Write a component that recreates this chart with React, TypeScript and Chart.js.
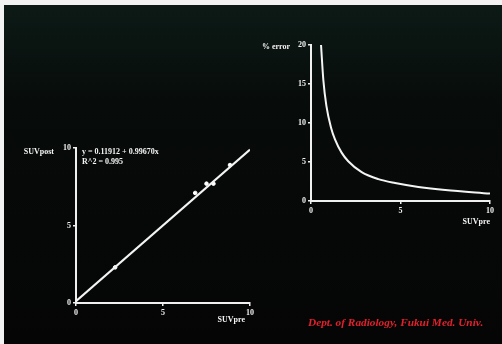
import React, { useEffect, useRef } from "react";
import { Chart, registerables } from "chart.js";

Chart.register(...registerables);

// Left chart: SUVpre vs SUVpost scatter with regression line
const scatterX = [2.25, 6.85, 7.5, 7.9, 8.85];
const scatterY = [2.3, 7.1, 7.7, 7.7, 8.9];
const fitX = [0, 10];
const fitY = [0.12, 9.9];
const equationLines = ["y = 0.11912 + 0.99670x", "R^2 = 0.995"];

// Right chart: % error vs SUVpre
const errX = [0.56, 0.69, 0.86, 1.12, 1.34, 1.71, 2.08, 2.83, 3.76, 4.7, 6, 7.5, 10];
const errY = [20, 15.5, 12.2, 9.4, 7.9, 6.2, 5.1, 3.7, 2.8, 2.3, 1.8, 1.4, 0.95];

const leftTicks = [0, 5, 10];
const rightYTicks = [0, 5, 10, 15, 20];
const footer = "Dept. of Radiology, Fukui Med. Univ.";

const FONT = '"Liberation Serif", "DejaVu Serif", serif';

const textPlugin = {
  id: "textPlugin",
  afterDraw(chart: any, _args: any, opts: any) {
    const { ctx, chartArea: a } = chart;
    ctx.save();
    ctx.fillStyle = "#f4f4f4";
    ctx.font = `bold 8px ${FONT}`;
    ctx.textBaseline = "middle";
    (opts.items || []).forEach((it: any) => {
      const bx = it.ax === "right" ? a.right : a.left;
      const by = it.ay === "bottom" ? a.bottom : a.top;
      ctx.textAlign = it.align || "left";
      ctx.fillText(it.text, bx + it.dx, by + it.dy);
    });
    ctx.restore();
  },
};

function axisCfg(min: number, max: number, ticks: number[], fit: (s: any) => void) {
  return {
    type: "linear" as const,
    min,
    max,
    afterFit: fit,
    afterBuildTicks: (s: any) => {
      s.ticks = ticks.map((v) => ({ value: v }));
    },
    grid: {
      display: true,
      drawOnChartArea: false,
      drawTicks: true,
      tickLength: 3,
      color: "#f0f0f0",
      lineWidth: 1.5,
    },
    border: { display: true, color: "#f0f0f0", width: 2 },
    ticks: {
      color: "#f0f0f0",
      padding: 2,
      font: { family: FONT, size: 8, weight: "bold" as const },
      autoSkip: false,
    },
  };
}

export default function App() {
  const leftRef = useRef<HTMLCanvasElement>(null);
  const rightRef = useRef<HTMLCanvasElement>(null);

  useEffect(() => {
    const left = new Chart(leftRef.current!, {
      type: "scatter",
      data: {
        datasets: [
          {
            type: "line",
            data: fitX.map((x, i) => ({ x, y: fitY[i] })),
            borderColor: "#f4f4f4",
            borderWidth: 2,
            pointRadius: 0,
          } as any,
          {
            data: scatterX.map((x, i) => ({ x, y: scatterY[i] })),
            backgroundColor: "#ffffff",
            borderColor: "#ffffff",
            pointRadius: 1.8,
          },
        ],
      },
      options: {
        responsive: false,
        animation: false,
        devicePixelRatio: 1,
        layout: { padding: { left: 0, top: 148, right: 252, bottom: 0 } },
        plugins: {
          legend: { display: false },
          tooltip: { enabled: false },
          textPlugin: {
            items: [
              { text: "SUVpost", ax: "left", ay: "top", dx: -22, dy: 4, align: "right" },
              { text: "SUVpre", ax: "right", ay: "bottom", dx: -5, dy: 17, align: "right" },
              { text: equationLines[0], ax: "left", ay: "top", dx: 6, dy: 4, align: "left" },
              { text: equationLines[1], ax: "left", ay: "top", dx: 6, dy: 14, align: "left" },
            ],
          },
        } as any,
        scales: {
          x: axisCfg(0, 10, leftTicks, (s: any) => { s.height = 41; }),
          y: axisCfg(0, 10, leftTicks, (s: any) => { s.width = 76; }),
        },
      },
      plugins: [textPlugin],
    });

    const right = new Chart(rightRef.current!, {
      type: "line",
      data: {
        datasets: [
          {
            data: errX.map((x, i) => ({ x, y: errY[i] })),
            borderColor: "#f4f4f4",
            borderWidth: 2,
            pointRadius: 0,
            cubicInterpolationMode: "monotone",
          },
        ],
      },
      options: {
        responsive: false,
        animation: false,
        devicePixelRatio: 1,
        layout: { padding: { left: 0, top: 45, right: 12, bottom: 0 } },
        plugins: {
          legend: { display: false },
          tooltip: { enabled: false },
          textPlugin: {
            items: [
              { text: "% error", ax: "left", ay: "top", dx: -21, dy: 2, align: "right" },
              { text: "SUVpre", ax: "right", ay: "bottom", dx: 0, dy: 21, align: "right" },
            ],
          },
        } as any,
        scales: {
          x: axisCfg(0, 10, leftTicks, (s: any) => { s.height = 143; }),
          y: axisCfg(0, 20, rightYTicks, (s: any) => { s.width = 311; }),
        },
      },
      plugins: [textPlugin],
    });

    return () => {
      left.destroy();
      right.destroy();
    };
  }, []);

  const canvasStyle: React.CSSProperties = {
    position: "absolute",
    left: 0,
    top: 0,
    width: 502,
    height: 344,
  };

  return (
    <div style={{ position: "absolute", left: 0, top: 0, width: 502, height: 344, background: "#f2f2f2", overflow: "hidden" }}>
      <div
        style={{
          position: "absolute",
          left: 4,
          top: 5,
          width: 498,
          height: 339,
          background: "linear-gradient(180deg, #0c1a16 0%, #070b0a 30%, #050505 100%)",
        }}
      />
      <canvas ref={leftRef} width={502} height={344} style={canvasStyle} />
      <canvas ref={rightRef} width={502} height={344} style={canvasStyle} />
      <div
        style={{
          position: "absolute",
          left: 308,
          top: 316,
          fontFamily: FONT,
          fontStyle: "italic",
          fontWeight: "bold",
          fontSize: 11.3,
          color: "#e3202c",
          whiteSpace: "nowrap",
        }}
      >
        {footer}
      </div>
    </div>
  );
}
